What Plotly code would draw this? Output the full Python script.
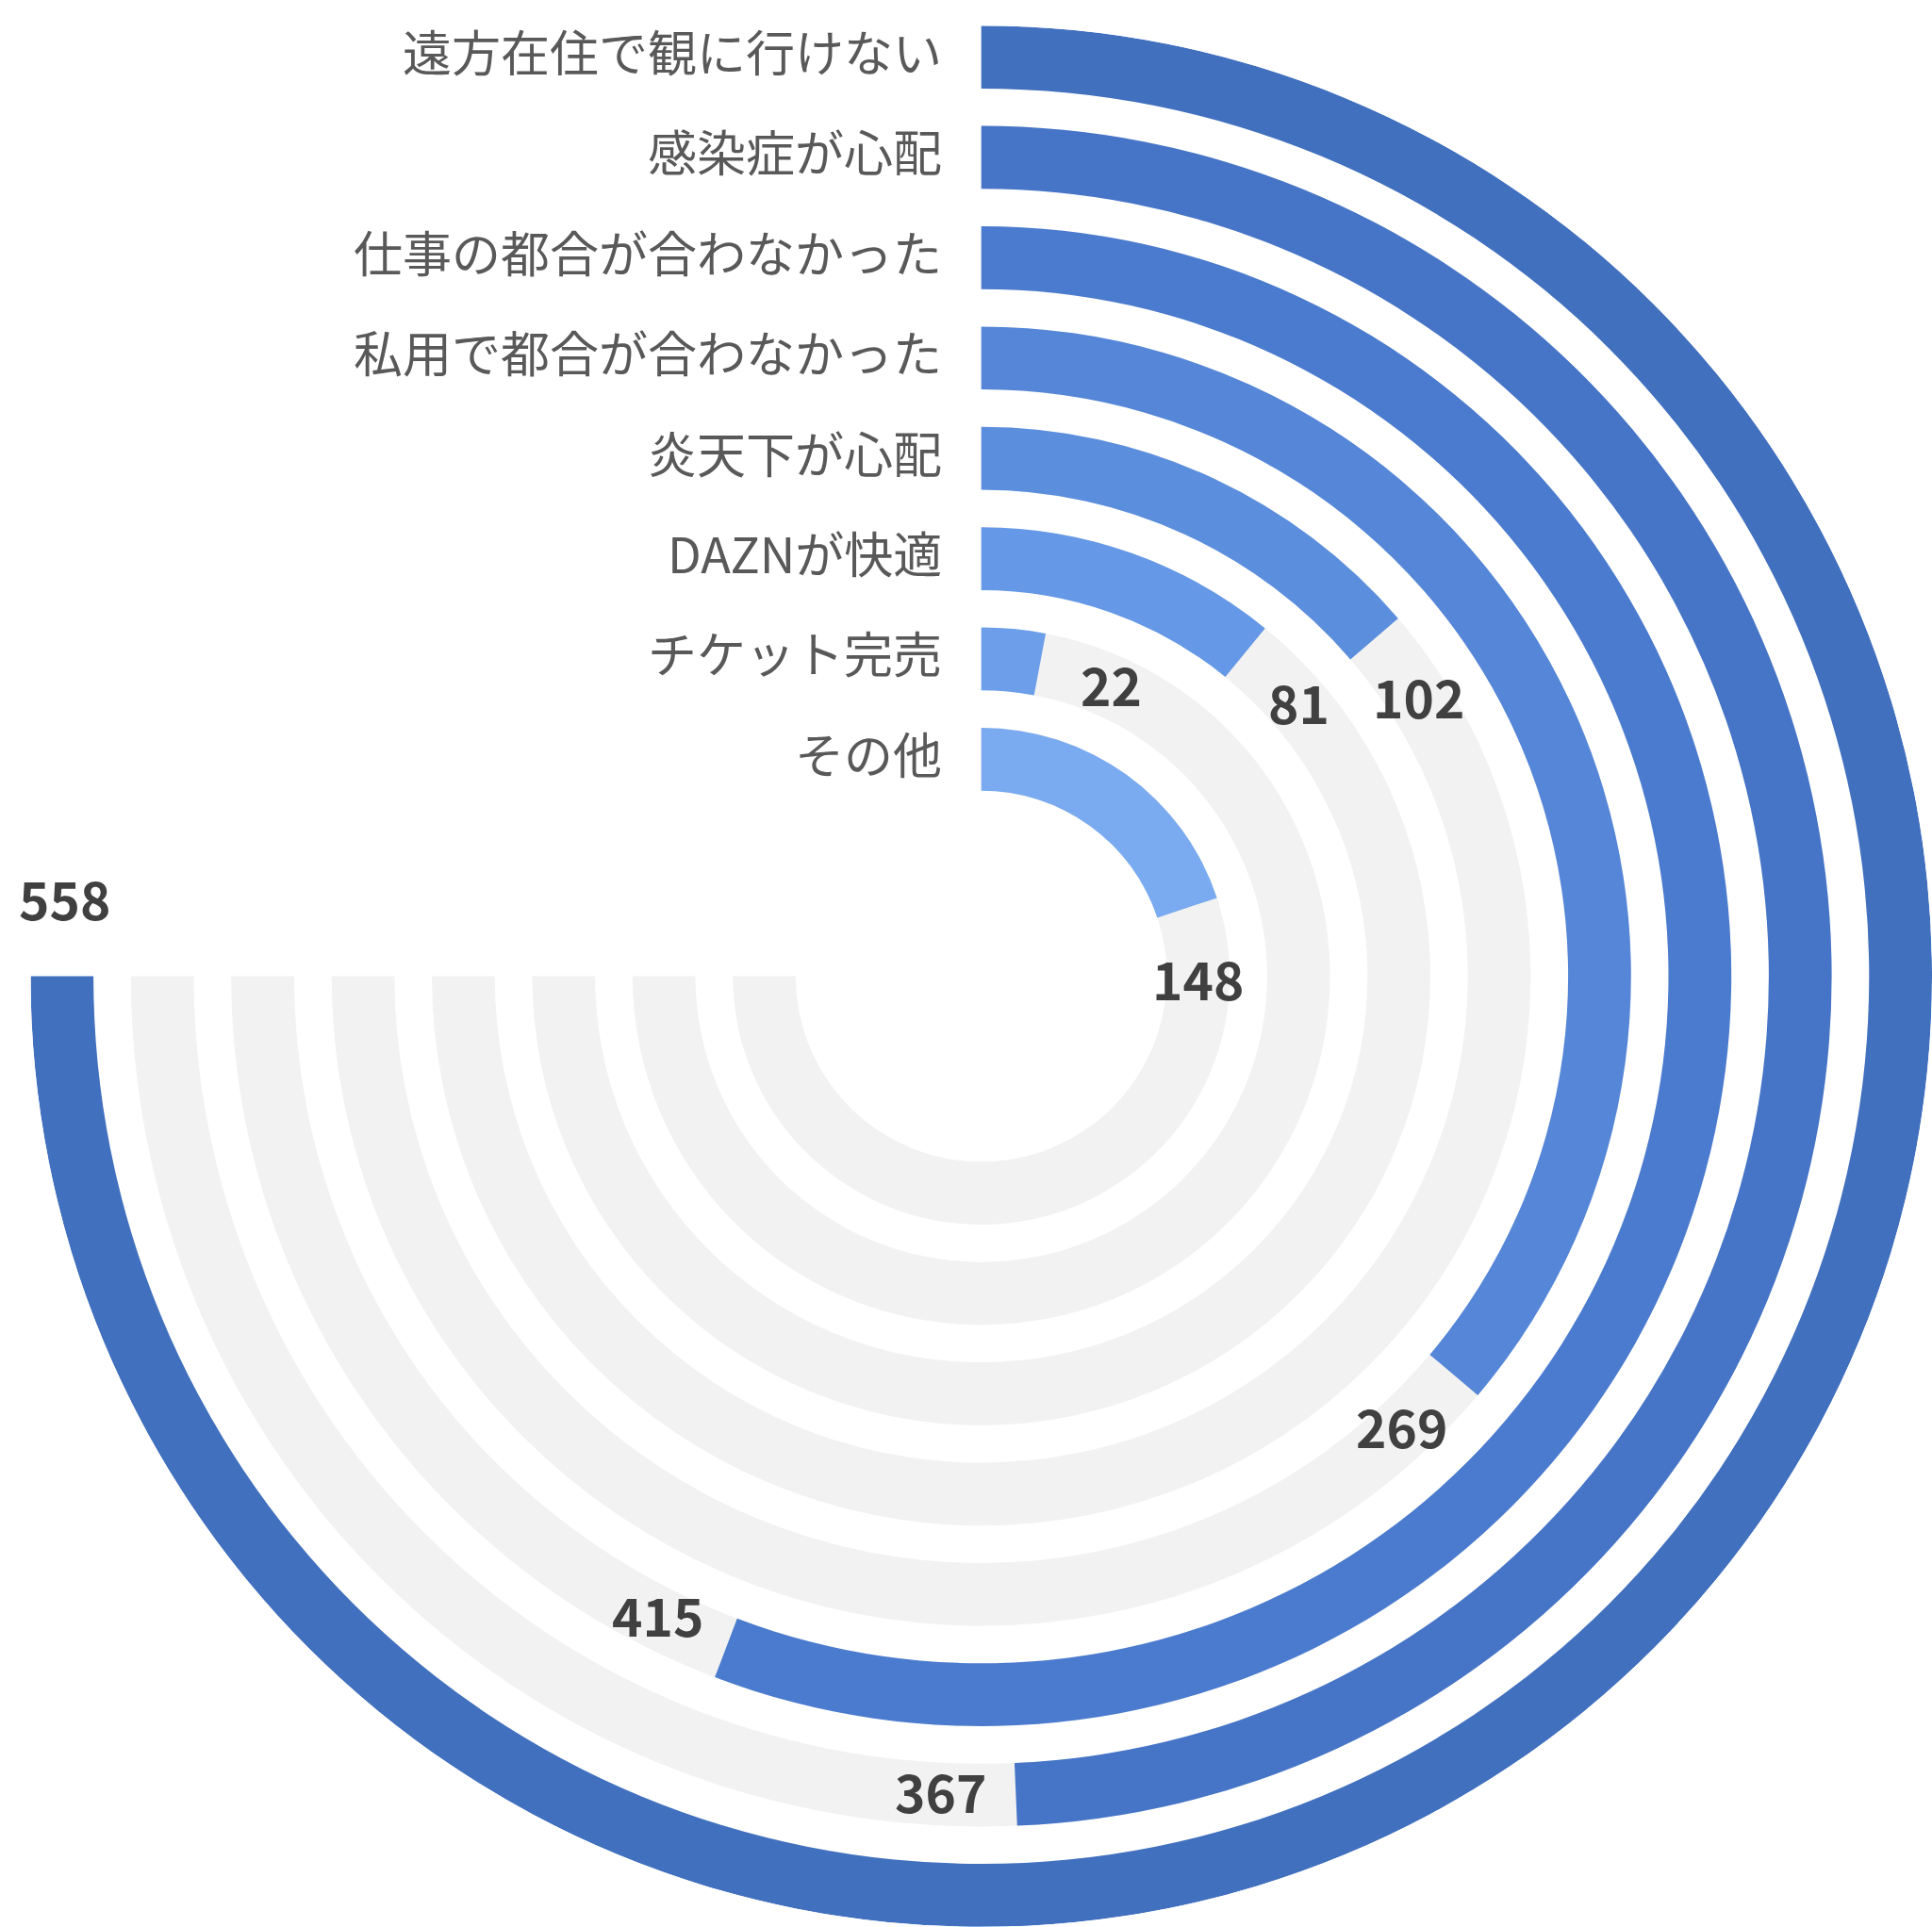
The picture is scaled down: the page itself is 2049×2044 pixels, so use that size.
import math
import plotly.graph_objects as go

# Survey answers: reasons for not attending the stadium
categories = [
    "遠方在住で観に行けない",
    "感染症が心配",
    "仕事の都合が合わなかった",
    "私用で都合が合わなかった",
    "炎天下が心配",
    "DAZNが快適",
    "チケット完売",
    "その他",
]
counts = [558, 367, 415, 269, 102, 81, 22, 148]

# one blue per ring, darkest outside
ring_colors = ["#4170BF", "#4675C7", "#4B7BCE", "#5586D8",
               "#5C8EDE", "#6598E6", "#6C9EEA", "#7AAAEF"]
track_color = "#F2F2F2"

# ---- geometry (page pixels) ----
W, H = 2049, 2044
CX, CY = 1040.7, 1035.5          # centre of the rings
R_PX = W - CX                    # drawn radius of the polar area
R_AX = 1013.0                    # radial-axis range end
OUTER = 1013.0                   # outer edge of the first ring
PITCH = 106.9                    # distance between rings
THICK = 67.0                     # ring thickness
SWEEP = 270.0                    # angle reached by the largest count
FULL = max(counts)
LABEL_GAP = 80.0                 # arc distance from bar end to its value label
CAT_GAP = 40.0                   # gap between category text and ring start

n = len(categories)
outer_r = [OUTER - PITCH * i for i in range(n)]
bases = [r - THICK for r in outer_r]
mids = [r - THICK / 2 for r in outer_r]
angles = [c / FULL * SWEEP for c in counts]

fig = go.Figure()

# grey background tracks
fig.add_trace(go.Barpolar(
    r=[THICK] * n, base=bases, theta=[SWEEP / 2] * n, width=[SWEEP] * n,
    marker=dict(color=track_color, line=dict(width=0)),
    hoverinfo="skip", showlegend=False,
))

# value arcs
fig.add_trace(go.Barpolar(
    r=[THICK] * n, base=bases, theta=[a / 2 for a in angles], width=angles,
    marker=dict(color=ring_colors, line=dict(width=0)),
    text=categories, hovertemplate="%{text}<extra></extra>", showlegend=False,
))

# cartesian overlay sharing the polar frame, used for the texts
dom_x = [(CX - R_PX) / W, 1.0]
dom_y = [(H - (CY + R_PX)) / H, (H - (CY - R_PX)) / H]
fig.add_trace(go.Scatter(x=[], y=[], xaxis="x", yaxis="y",
                         hoverinfo="skip", showlegend=False))

# category names, right-aligned just left of where each ring starts
annotations = [
    dict(x=-CAT_GAP, y=m, xref="x", yref="y", text=cat, showarrow=False,
         xanchor="right", yanchor="middle", yshift=7,
         font=dict(family="Noto Sans CJK JP", size=52, color="#595959"))
    for cat, m in zip(categories, mids)
]

# value labels just past the end of each arc
for c, a, m in zip(counts, angles, mids):
    t = math.radians(a + math.degrees(LABEL_GAP / m))
    annotations.append(dict(
        x=m * math.sin(t), y=m * math.cos(t), xref="x", yref="y",
        text=str(c), showarrow=False, xanchor="center", yanchor="middle",
        yshift=4,
        font=dict(family="Noto Sans CJK JP", size=55, color="#404040", weight=700),
    ))

fig.update_layout(
    width=W, height=H,
    margin=dict(l=0, r=0, t=0, b=0),
    paper_bgcolor="white", plot_bgcolor="white",
    showlegend=False,
    polar=dict(
        domain=dict(x=dom_x, y=dom_y),
        bgcolor="white",
        barmode="overlay",
        hole=0,
        radialaxis=dict(range=[0, R_AX], visible=False, showgrid=False),
        angularaxis=dict(rotation=90, direction="clockwise", visible=False,
                         showgrid=False, thetaunit="degrees"),
    ),
    xaxis=dict(domain=dom_x, range=[-R_AX, R_AX], visible=False, fixedrange=True),
    yaxis=dict(domain=dom_y, range=[-R_AX, R_AX], visible=False, fixedrange=True),
    annotations=annotations,
)

fig.write_html("out.html")
